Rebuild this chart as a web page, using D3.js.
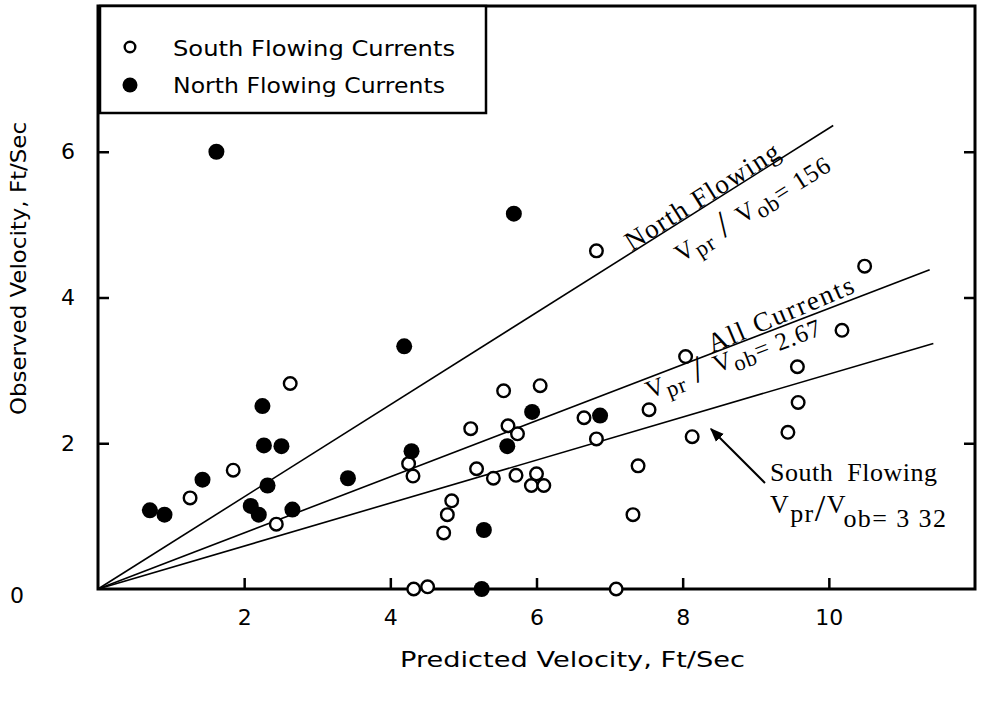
<!DOCTYPE html>
<html>
<head>
<meta charset="utf-8">
<script src="https://cdn.jsdelivr.net/npm/d3@7"></script>
<style>
  html, body { margin: 0; padding: 0; background: #fff; }
  svg { display: block; }
  .sans { font-family: "DejaVu Sans", "Open Sans", sans-serif; }
  .serif { font-family: "Liberation Serif", "DejaVu Serif", serif; }
</style>
</head>
<body>
<svg id="chart" width="982" height="701"></svg>
<script>
// ---------------- data ----------------
const southX = [1.26,1.85,2.44,2.63,4.25,4.31,4.32,4.51,4.73,4.78,4.84,5.10,5.18,5.41,5.55,5.61,5.74,5.72,5.93,6.00,6.05,6.10,6.65,6.82,6.82,7.09,7.32,7.39,7.54,8.04,8.13,9.44,9.57,9.58,10.18,10.49];
const southY = [1.25,1.63,0.89,2.82,1.72,1.55,0.00,0.03,0.77,1.02,1.21,2.20,1.65,1.52,2.72,2.24,2.13,1.56,1.42,1.58,2.79,1.42,2.35,2.06,4.64,0.00,1.02,1.69,2.46,3.19,2.09,2.15,3.05,2.56,3.55,4.43];
const northX = [0.71,0.91,1.43,1.62,2.09,2.20,2.25,2.27,2.32,2.51,2.66,3.42,4.19,4.29,5.25,5.28,5.60,5.69,5.94,6.87];
const northY = [1.08,1.02,1.50,6.00,1.14,1.02,2.51,1.97,1.42,1.96,1.09,1.52,3.33,1.89,0.00,0.81,1.96,5.15,2.43,2.38];
// regression lines from origin: end points
const lineNames = ["North Flowing", "All Currents", "South Flowing"];
const lineEndX = [10.06, 11.38, 11.43];
const lineEndY = [6.36, 4.38, 3.37];
const ratioText = ["156", "2.67", "3 32"];
const xTicks = [2,4,6,8,10];
const yTicks = [0,2,4,6];
const legendLabels = ["South Flowing Currents", "North Flowing Currents"];
const xTitle = "Predicted Velocity, Ft/Sec";
const yTitle = "Observed Velocity, Ft/Sec";

// ---------------- layout ----------------
const svg = d3.select("#chart");
const L = 98, R = 975, T = 6, B = 589;
const x = d3.scaleLinear().domain([0, 12]).range([L, R]);
const y = d3.scaleLinear().domain([0, 8]).range([B, T]);

// frame
svg.append("rect").attr("x", L).attr("y", T).attr("width", R - L).attr("height", B - T)
  .attr("fill", "none").attr("stroke", "#000").attr("stroke-width", 3);

// axes
const gx = svg.append("g").attr("transform", `translate(0,${B})`)
  .call(d3.axisBottom(x).tickValues(xTicks).tickSizeInner(-11).tickSizeOuter(0).tickPadding(20).tickFormat(d3.format("d")));
const gy = svg.append("g").attr("transform", `translate(${L},0)`)
  .call(d3.axisLeft(y).tickValues(yTicks).tickSizeInner(-11).tickSizeOuter(0).tickPadding(23).tickFormat(d3.format("d")));
const gr = svg.append("g").attr("transform", `translate(${R},0)`)
  .call(d3.axisRight(y).tickValues(yTicks.filter(d => d > 0)).tickSizeInner(-11).tickSizeOuter(0).tickFormat(""));
[gx, gy, gr].forEach(g => {
  g.select(".domain").remove();
  g.selectAll(".tick line").attr("stroke", "#000").attr("stroke-width", 2.5);
  g.selectAll(".tick text").attr("class", "sans").attr("font-size", 22).attr("fill", "#000");
});
gy.selectAll(".tick").filter(d => d === 0).select("line").remove();
gy.selectAll(".tick").filter(d => d === 0).select("text").attr("x", 17 - L).attr("text-anchor", "middle").attr("dy", "0.6em");

// axis titles
svg.append("text").attr("class", "sans").attr("x", 400).attr("y", 667)
  .attr("font-size", 21).attr("textLength", 345).attr("lengthAdjust", "spacingAndGlyphs").text(xTitle);
svg.append("text").attr("class", "sans").attr("transform", "translate(26,415) rotate(-90)")
  .attr("font-size", 21).attr("textLength", 293).attr("lengthAdjust", "spacingAndGlyphs").text(yTitle);

// regression lines
const lineGen = d3.line().x(d => x(d[0])).y(d => y(d[1]));
lineNames.forEach((n, i) => {
  svg.append("path").datum([[0, 0], [lineEndX[i], lineEndY[i]]])
    .attr("d", lineGen).attr("fill", "none").attr("stroke", "#000").attr("stroke-width", 1.6);
});

// points
svg.append("g").selectAll("circle").data(southX.map((v, i) => [v, southY[i]])).join("circle")
  .attr("cx", d => x(d[0])).attr("cy", d => y(d[1])).attr("r", 6.3)
  .attr("fill", "#fff").attr("stroke", "#000").attr("stroke-width", 2.4);
svg.append("g").selectAll("circle").data(northX.map((v, i) => [v, northY[i]])).join("circle")
  .attr("cx", d => x(d[0])).attr("cy", d => y(d[1])).attr("r", 8)
  .attr("fill", "#000");

// legend box
svg.append("rect").attr("x", 100).attr("y", T).attr("width", 386).attr("height", 107)
  .attr("fill", "#fff").attr("stroke", "#000").attr("stroke-width", 2.5);
svg.append("circle").attr("cx", 130).attr("cy", 47).attr("r", 5.3)
  .attr("fill", "#fff").attr("stroke", "#000").attr("stroke-width", 2.4);
svg.append("circle").attr("cx", 130).attr("cy", 85).attr("r", 7.5).attr("fill", "#000");
legendLabels.forEach((t, i) => {
  svg.append("text").attr("class", "sans").attr("x", 173).attr("y", 56 + i * 37)
    .attr("font-size", 21).attr("textLength", i === 0 ? 282 : 272).attr("lengthAdjust", "spacingAndGlyphs").text(t);
});

// line annotations (rotated to line angle)
function angleOf(i) {
  return Math.atan2(y(lineEndY[i]) - y(0), x(lineEndX[i]) - x(0)) * 180 / Math.PI;
}
function onLine(i, px) {
  const t = (px - x(0)) / (x(lineEndX[i]) - x(0));
  return [px, y(0) + t * (y(lineEndY[i]) - y(0))];
}
function ratioLabel(g, txt, size) {
  const t = g.append("text").attr("class", "serif").attr("font-size", size).attr("text-anchor", "middle")
    .attr("letter-spacing", 1);
  t.append("tspan").text("V");
  t.append("tspan").attr("dy", 6).attr("font-size", size * 0.9).text("pr");
  t.append("tspan").attr("dy", -4).attr("font-size", size * 1.5).text(" / ");
  t.append("tspan").attr("dy", -2).text("V");
  t.append("tspan").attr("dy", 6).attr("font-size", size * 0.9).text("ob");
  t.append("tspan").attr("dy", -4).text("= " + txt);
  return t;
}
// North
{
  const a = angleOf(0);
  const p1 = onLine(0, 708);
  svg.append("text").attr("class", "serif").attr("font-size", 27).attr("letter-spacing", 1.5).attr("text-anchor", "middle")
    .attr("transform", `translate(${p1[0]},${p1[1]}) rotate(${a})`).attr("y", -1).text(lineNames[0]);
  const p2 = onLine(0, 738);
  const g = svg.append("g").attr("transform", `translate(${p2[0]},${p2[1]}) rotate(${a})`);
  ratioLabel(g, ratioText[0], 25).attr("y", 35);
}
// All
{
  const a = angleOf(1) - 2;
  const p1 = onLine(1, 786);
  svg.append("text").attr("class", "serif").attr("font-size", 27).attr("letter-spacing", 2).attr("text-anchor", "middle")
    .attr("transform", `translate(${p1[0]},${p1[1]}) rotate(${a})`).attr("y", -3).text(lineNames[1]);
  const p2 = onLine(1, 729);
  const g = svg.append("g").attr("transform", `translate(${p2[0]},${p2[1]}) rotate(${angleOf(1)})`);
  ratioLabel(g, ratioText[1], 25).attr("y", 20);
}
// South
{
  svg.append("text").attr("class", "serif").attr("font-size", 26).attr("x", 770).attr("y", 481)
    .attr("xml:space", "preserve").attr("textLength", 167).attr("lengthAdjust", "spacing").text("South  Flowing");
  const t = svg.append("text").attr("class", "serif").attr("font-size", 26).attr("x", 770).attr("y", 513)
    .attr("letter-spacing", 1.4);
  t.append("tspan").text("V");
  t.append("tspan").attr("dy", 9).text("pr");
  t.append("tspan").attr("dy", -1).attr("font-size", 38).text("/");
  t.append("tspan").attr("dy", -8).text("V");
  t.append("tspan").attr("dy", 14).text("ob");
  t.append("tspan").attr("dy", 0).attr("xml:space", "preserve").text("= " + ratioText[2]);
  // arrow
  const defs = svg.append("defs");
  defs.append("marker").attr("id", "ah").attr("viewBox", "0 0 10 10").attr("refX", 9).attr("refY", 5)
    .attr("markerWidth", 7).attr("markerHeight", 7).attr("orient", "auto")
    .append("path").attr("d", "M0,1 L10,5 L0,9 z").attr("fill", "#000");
  svg.append("line").attr("x1", 765).attr("y1", 483).attr("x2", 711).attr("y2", 429)
    .attr("stroke", "#000").attr("stroke-width", 2).attr("marker-end", "url(#ah)");
}
</script>
</body>
</html>
